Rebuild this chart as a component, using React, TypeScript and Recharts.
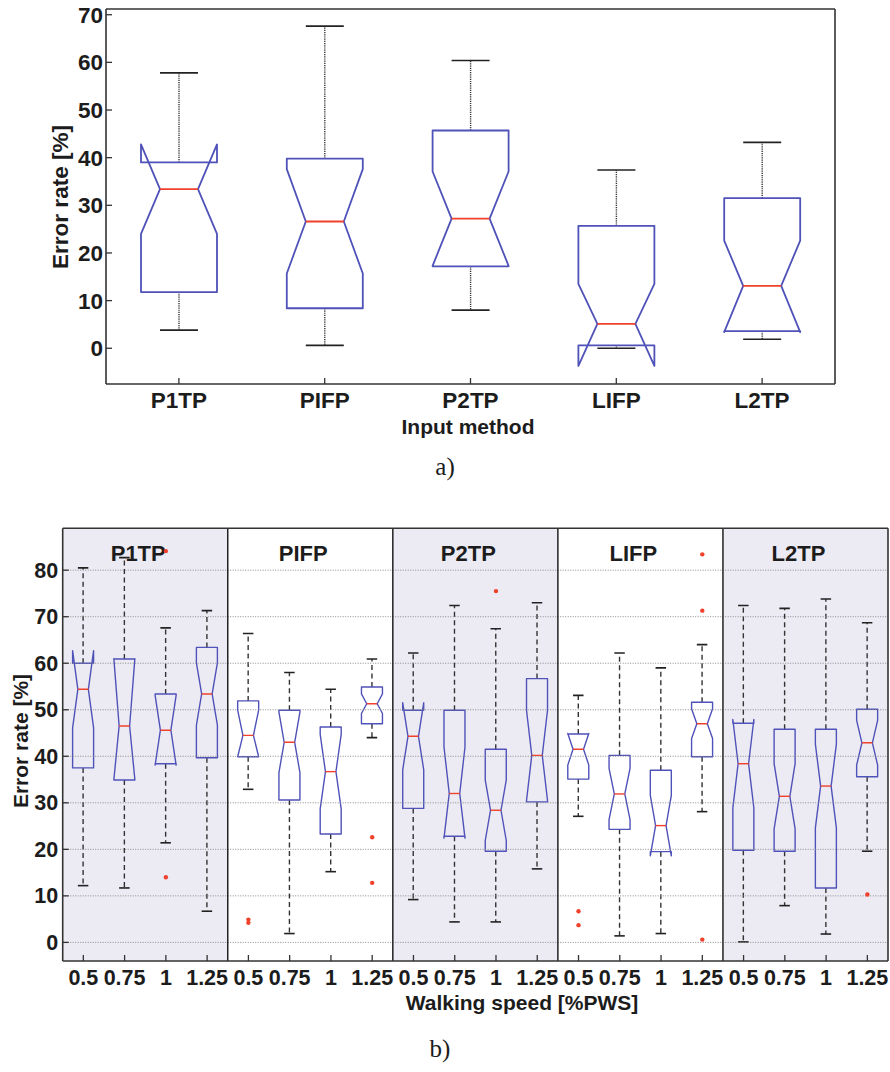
import React from "react";
import {
  ComposedChart, Bar, Scatter, XAxis, YAxis,
  ReferenceArea, ReferenceLine
} from "recharts";

// ---- a) error rate per input method ----
const methods = ["P1TP", "PIFP", "P2TP", "LIFP", "L2TP"];
const whiskerLowA = [3.8, 0.6, 8.0, 0.0, 1.9];
const q1A = [11.8, 8.4, 17.2, 0.6, 3.6];
const notchLowA = [24.0, 15.7, 17.3, -3.7, 3.4];
const medianA = [33.4, 26.6, 27.2, 5.1, 13.1];
const notchHighA = [42.8, 37.6, 37.1, 13.5, 22.6];
const q3A = [39.0, 39.8, 45.7, 25.7, 31.5];
const whiskerHighA = [57.8, 67.6, 60.4, 37.4, 43.2];
const ticksA = [0, 10, 20, 30, 40, 50, 60, 70];

// ---- b) error rate per method and walking speed (method-major order) ----
const speeds = ["0.5", "0.75", "1", "1.25"];
const whiskerLowB = [12.2, 11.7, 21.4, 6.7, 32.9, 1.9, 15.2, 44.0, 9.2, 4.4, 4.4, 15.8, 27.1, 1.4, 1.9, 28.1, 0.1, 7.9, 1.8, 19.6];
const q1B = [37.5, 34.9, 38.4, 39.7, 39.9, 30.6, 23.3, 47.0, 28.8, 22.8, 19.6, 30.2, 35.1, 24.3, 19.5, 39.9, 19.8, 19.6, 11.7, 35.6];
const notchLowB = [46.1, 35.0, 38.1, 46.7, 39.9, 36.5, 28.7, 49.2, 37.1, 22.4, 21.9, 30.5, 38.1, 26.4, 18.6, 43.8, 28.9, 24.4, 24.6, 38.1];
const medianB = [54.4, 46.5, 45.6, 53.4, 44.5, 43.0, 36.7, 51.3, 44.3, 32.0, 28.4, 40.2, 41.5, 31.9, 25.1, 47.0, 38.4, 31.4, 33.6, 42.9];
const notchHighB = [62.7, 61.0, 53.1, 60.1, 49.9, 49.5, 44.7, 53.4, 51.5, 42.0, 34.9, 49.9, 44.9, 37.4, 31.6, 50.2, 47.9, 38.4, 42.6, 47.7];
const q3B = [60.0, 60.9, 53.4, 63.4, 51.9, 49.9, 46.3, 54.9, 49.9, 49.9, 41.5, 56.7, 44.8, 40.2, 37.0, 51.6, 47.1, 45.8, 45.8, 50.1];
const whiskerHighB = [80.5, 82.7, 67.6, 71.3, 66.4, 58.0, 54.4, 60.9, 62.2, 72.4, 67.4, 73.0, 53.1, 62.2, 59.0, 64.0, 72.4, 71.8, 73.8, 68.7];
const outlierKeys = ["P1TP|1", "P1TP|1", "PIFP|0.5", "PIFP|0.5", "PIFP|1.25", "PIFP|1.25", "P2TP|1", "LIFP|0.5", "LIFP|0.5", "LIFP|1.25", "LIFP|1.25", "LIFP|1.25", "L2TP|1.25"];
const outlierValues = [14.0, 84.1, 4.9, 4.2, 22.6, 12.8, 75.5, 6.7, 3.7, 83.4, 71.3, 0.6, 10.3];
const ticksB = [0, 10, 20, 30, 40, 50, 60, 70, 80];

const BLUE = "#4f52b8";
const RED = "#f0412c";
const INK = "#1c1c1c";
const SHADE = "#ecebf4";
const SANS = '"Liberation Sans", Arial, sans-serif';
const SERIF = '"Liberation Serif", "Times New Roman", serif';

const rowsA = methods.map((m, i) => ({
  key: m, whLo: whiskerLowA[i], q1: q1A[i], nLo: notchLowA[i], med: medianA[i],
  nHi: notchHighA[i], q3: q3A[i], whHi: whiskerHighA[i],
}));

const rowsB = methods.flatMap((m, g) =>
  speeds.map((s, k) => {
    const i = g * 4 + k;
    const key = `${m}|${s}`;
    const outs = outlierValues.filter((_, j) => outlierKeys[j] === key);
    return {
      key, whLo: whiskerLowB[i], q1: q1B[i], nLo: notchLowB[i], med: medianB[i],
      nHi: notchHighB[i], q3: q3B[i], whHi: whiskerHighB[i],
      o1: outs[0] ?? null, o2: outs[1] ?? null, o3: outs[2] ?? null,
    };
  })
);

// notched box drawn inside the range bar [whLo, whHi]
const makeBox = (dash: string, sw: number) => (props: any) => {
  const { x, y, width, height, payload } = props;
  const d = payload;
  const py = (v: number) => y + ((d.whHi - v) / (d.whHi - d.whLo)) * height;
  const cx = x + width / 2;
  const hw = width / 2;
  const nw = width / 4;
  const path = [
    [cx - hw, d.q1], [cx - hw, d.nLo], [cx - nw, d.med], [cx - hw, d.nHi], [cx - hw, d.q3],
    [cx + hw, d.q3], [cx + hw, d.nHi], [cx + nw, d.med], [cx + hw, d.nLo], [cx + hw, d.q1],
  ].map((p, i) => `${i ? "L" : "M"}${p[0]},${py(p[1])}`).join(" ") + " Z";
  return (
    <g>
      <line x1={cx} x2={cx} y1={py(d.q3)} y2={py(d.whHi)} stroke="#333" strokeWidth={1.4} strokeDasharray={dash} />
      <line x1={cx} x2={cx} y1={py(d.q1)} y2={py(d.whLo)} stroke="#333" strokeWidth={1.4} strokeDasharray={dash} />
      <line x1={cx - nw} x2={cx + nw} y1={py(d.whHi)} y2={py(d.whHi)} stroke="#222" strokeWidth={1.6} />
      <line x1={cx - nw} x2={cx + nw} y1={py(d.whLo)} y2={py(d.whLo)} stroke="#222" strokeWidth={1.6} />
      <path d={path} fill="none" stroke={BLUE} strokeWidth={sw} strokeLinejoin="round" />
      <line x1={cx - nw} x2={cx + nw} y1={py(d.med)} y2={py(d.med)} stroke={RED} strokeWidth={sw} />
    </g>
  );
};

const outlierDot = (k: string) => (props: any) => {
  const v = props.payload ? props.payload[k] : null;
  if (v == null || props.cy == null || isNaN(props.cy)) return <g />;
  return <circle cx={props.cx} cy={props.cy} r={2.2} fill={RED} />;
};

const tick = (size: number) => ({ fontSize: size, fontWeight: 700, fill: INK, fontFamily: SANS });
const axisLine = { stroke: "#333", strokeWidth: 1.6 };
const tickLine = { stroke: "#333", strokeWidth: 1.3 };

const panelLabel = (name: string) => (p: any) => {
  const vb = p.viewBox;
  return (
    <text x={vb.x + vb.width / 2 - 7} y={vb.y + 32.5} textAnchor="middle"
      style={{ fontSize: 22, fontWeight: 700, fill: INK, fontFamily: SANS }}>{name}</text>
  );
};

const abs = (left: number, top: number, extra: React.CSSProperties = {}): React.CSSProperties => ({
  position: "absolute", left, top, transform: "translate(-50%, -50%)", whiteSpace: "nowrap", lineHeight: 1, ...extra,
});

const App: React.FC = () => {
  return (
    <div style={{
      position: "absolute", left: 0, top: 0, width: 890, height: 1072, background: "#fff",
      fontFamily: SANS, fontWeight: 700, color: INK,
    }}>
      {/* a) */}
      <div style={{ position: "absolute", left: 0, top: 0 }}>
        <ComposedChart width={890} height={440} data={rowsA} barCategoryGap="24%"
          margin={{ top: 8, right: 54, bottom: 55, left: 105 }}>
          <XAxis xAxisId="b" dataKey="key" type="category" height={1} interval={0}
            tickSize={-6} tickMargin={14} tick={tick(22.5)} axisLine={axisLine} tickLine={tickLine} />
          <XAxis xAxisId="t" dataKey="key" type="category" orientation="top" height={1} interval={0}
            tickSize={-6} tick={false} axisLine={axisLine} tickLine={tickLine} />
          <YAxis yAxisId="l" type="number" domain={[-7.5, 71.2]} ticks={ticksA} allowDataOverflow width={1}
            tickSize={-6} tickMargin={9} tick={tick(22.5)} axisLine={axisLine} tickLine={tickLine} />
          <YAxis yAxisId="r" orientation="right" type="number" domain={[-7.5, 71.2]} ticks={ticksA} allowDataOverflow width={1}
            tickSize={-6} tick={false} axisLine={axisLine} tickLine={tickLine} />
          <Bar xAxisId="b" yAxisId="l" dataKey={(d: any) => [d.whLo, d.whHi]}
            shape={makeBox("1.2 1", 1.8)} isAnimationActive={false} />
        </ComposedChart>
      </div>
      <div style={abs(61, 197, { transform: "translate(-50%, -50%) rotate(-90deg)", fontSize: 22.5 })}>Error rate [%]</div>
      <div style={abs(468, 426, { fontSize: 21 })}>Input method</div>
      <div style={abs(445, 466, { fontSize: 25, fontWeight: 400, fontFamily: SERIF })}>a)</div>

      {/* b) */}
      <div style={{ position: "absolute", left: 0, top: 480 }}>
        <ComposedChart width={890} height={592} data={rowsB} barCategoryGap="24%"
          margin={{ top: 47.3, right: 1, bottom: 110, left: 61.7 }}>
          {methods.map((m, g) => (
            <ReferenceArea key={m} xAxisId="b" yAxisId="l" x1={`${m}|${speeds[0]}`} x2={`${m}|${speeds[3]}`}
              fill={g % 2 === 0 ? SHADE : "none"} fillOpacity={1} stroke="none" ifOverflow="visible"
              label={panelLabel(m)} />
          ))}
          {ticksB.map((t) => (
            <ReferenceLine key={`g${t}`} xAxisId="b" yAxisId="l" y={t}
              stroke="#8a8a8a" strokeWidth={1} strokeDasharray="1 1.5" />
          ))}
          {methods.slice(1).map((m) => (
            <ReferenceLine key={m} xAxisId="b" yAxisId="l" x={`${m}|${speeds[0]}`} position="start"
              stroke="#222" strokeWidth={1.5} ifOverflow="visible" />
          ))}
          <XAxis xAxisId="b" dataKey="key" type="category" height={1} interval={0}
            tickFormatter={(v: string) => v.split("|")[1]}
            tickSize={-6} tickMargin={14.5} tick={tick(21.5)} axisLine={axisLine} tickLine={tickLine} />
          <XAxis xAxisId="t" dataKey="key" type="category" orientation="top" height={1} interval={0}
            tickSize={-6} tick={false} axisLine={axisLine} tickLine={tickLine} />
          <YAxis yAxisId="l" type="number" domain={[-4, 89]} ticks={ticksB} allowDataOverflow width={1}
            tickSize={-6} tickMargin={10.5} tick={tick(21.5)} axisLine={axisLine} tickLine={tickLine} />
          <YAxis yAxisId="r" orientation="right" type="number" domain={[-4, 89]} ticks={ticksB} allowDataOverflow width={1}
            tickSize={-6} tick={false} axisLine={axisLine} tickLine={tickLine} />
          <Bar xAxisId="b" yAxisId="l" dataKey={(d: any) => [d.whLo, d.whHi]}
            shape={makeBox("5 3.5", 1.4)} isAnimationActive={false} />
          <Scatter xAxisId="b" yAxisId="l" dataKey="o1" shape={outlierDot("o1")} isAnimationActive={false} />
          <Scatter xAxisId="b" yAxisId="l" dataKey="o2" shape={outlierDot("o2")} isAnimationActive={false} />
          <Scatter xAxisId="b" yAxisId="l" dataKey="o3" shape={outlierDot("o3")} isAnimationActive={false} />
        </ComposedChart>
      </div>
      <div style={abs(20, 741, { transform: "translate(-50%, -50%) rotate(-90deg)", fontSize: 21 })}>Error rate [%]</div>
      <div style={abs(522, 1002, { fontSize: 21 })}>Walking speed [%PWS]</div>
      <div style={abs(440, 1048, { fontSize: 25, fontWeight: 400, fontFamily: SERIF })}>b)</div>
    </div>
  );
};

export default App;
